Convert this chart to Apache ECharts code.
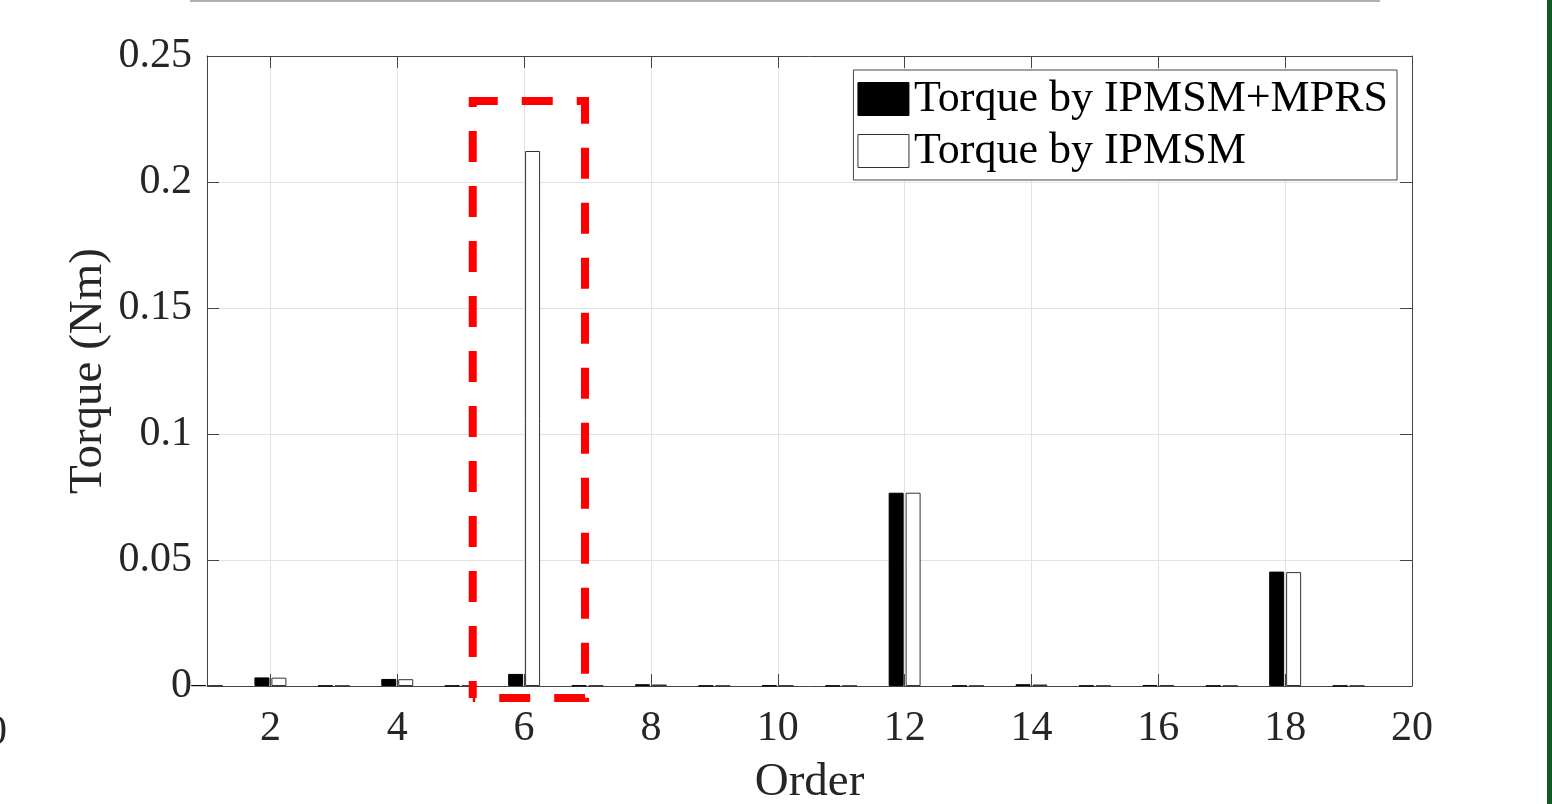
<!DOCTYPE html>
<html>
<head>
<meta charset="utf-8">
<title>Torque harmonics</title>
<script src="https://cdn.jsdelivr.net/npm/echarts@6/dist/echarts.min.js"></script>
<style>
  html, body { margin: 0; padding: 0; background: #fff; }
  #chart { width: 1552px; height: 804px; }
</style>
</head>
<body>
<div id="chart"></div>
<script>
// harmonic orders
const orders = [1, 2, 3, 4, 5, 6, 7, 8, 9, 10, 11, 12, 13, 14, 15, 16, 17, 18, 19]
// torque amplitude (Nm)
const torqueMprs = [0.0003, 0.0034, 0.0001, 0.0028, 0.0001, 0.0048, 0.0002, 0.0007, 0.0001, 0.0002,
  0.0001, 0.0767, 0.0001, 0.0007, 0.0001, 0.0004, 0.0001, 0.0454, 0.0001]
const torqueIpmsm = [0.0003, 0.0033, 0.0001, 0.0027, 0.0001, 0.2123, 0.0002, 0.0006, 0.0001, 0.0002,
  0.0001, 0.0767, 0.0001, 0.0006, 0.0001, 0.0004, 0.0001, 0.0452, 0.0001]
const seriesNames = ['Torque by IPMSM+MPRS', 'Torque by IPMSM']
const xTicks = [2, 4, 6, 8, 10, 12, 14, 16, 18, 20]
// highlight box around the 6th order (data coords), starts bottom-left
const boxX = [5.19, 5.19, 6.96, 6.96, 5.19]
const boxY = [-0.0048, 0.2321, 0.2321, -0.0048, -0.0048]

const FONT = 'Liberation Serif'
const AXIS = '#444'
const TXT = '#262626'

const chart = echarts.init(document.getElementById('chart'))

const xBase = {
  type: 'value',
  min: 1,
  max: 20,
  axisLine: { show: true, onZero: false, lineStyle: { color: AXIS, width: 1 } },
  axisTick: { show: true, inside: true, length: 12, customValues: xTicks, lineStyle: { color: AXIS } },
  splitLine: { show: false }
}
const yBase = {
  type: 'value',
  min: 0,
  max: 0.25,
  interval: 0.05,
  axisLine: { show: true, lineStyle: { color: AXIS, width: 1 } },
  axisTick: { show: true, inside: true, length: 12, lineStyle: { color: AXIS } },
  splitLine: { show: false }
}

chart.setOption({
  animation: false,
  backgroundColor: '#fff',
  textStyle: { fontFamily: FONT },
  grid: { left: 207, right: 140, top: 56, bottom: 118, outerBoundsMode: 'none', containLabel: false },
  legend: {
    orient: 'vertical',
    right: 155,
    top: 70,
    padding: [7, 9, 7, 4],
    itemGap: 8,
    itemWidth: 51,
    itemHeight: 33,
    backgroundColor: '#fff',
    borderColor: AXIS,
    borderWidth: 1,
    borderRadius: 0,
    textStyle: { fontFamily: FONT, fontSize: 44, color: '#000' },
    data: [
      { name: seriesNames[0], icon: 'rect', itemStyle: { color: '#000', borderColor: '#000', borderWidth: 1 } },
      { name: seriesNames[1], icon: 'rect', itemStyle: { color: '#fff', borderColor: '#333', borderWidth: 1 } }
    ]
  },
  xAxis: [
    Object.assign({}, xBase, {
      position: 'bottom',
      name: 'Order',
      nameLocation: 'middle',
      nameGap: 73,
      nameMoveOverlap: false,
      nameTextStyle: { fontFamily: FONT, fontSize: 47, color: TXT },
      axisLabel: { customValues: xTicks, margin: 22, fontFamily: FONT, fontSize: 42, color: TXT },
      splitLine: { show: true, lineStyle: { color: '#e3e3e3', width: 1 } }
    }),
    Object.assign({}, xBase, { position: 'top', axisLabel: { show: false } })
  ],
  yAxis: [
    Object.assign({}, yBase, {
      position: 'left',
      name: 'Torque (Nm)',
      nameLocation: 'middle',
      nameGap: 95,
      nameMoveOverlap: false,
      nameTextStyle: { fontFamily: FONT, fontSize: 47, color: TXT },
      axisLabel: {
        margin: 15, fontFamily: FONT, fontSize: 42, color: TXT,
        formatter: v => String(+v.toFixed(2))
      },
      splitLine: { show: true, lineStyle: { color: '#e3e3e3', width: 1 } }
    }),
    Object.assign({}, yBase, { position: 'right', axisLabel: { show: false } })
  ],
  series: [
    {
      name: seriesNames[0],
      type: 'bar',
      barWidth: 15,
      barGap: '13%',
      clip: true,
      itemStyle: { color: '#000', borderColor: '#000', borderWidth: 1 },
      data: orders.map((o, i) => [o, torqueMprs[i]])
    },
    {
      name: seriesNames[1],
      type: 'bar',
      barWidth: 15,
      barGap: '13%',
      clip: true,
      itemStyle: { color: '#fff', borderColor: '#333', borderWidth: 1 },
      data: orders.map((o, i) => [o, torqueIpmsm[i]])
    },
    {
      name: 'highlight',
      type: 'line',
      clip: false,
      silent: true,
      symbol: 'none',
      z: 5,
      lineStyle: { color: '#ff0000', width: 8, type: [31, 24], dashOffset: 14, join: 'miter', cap: 'butt' },
      data: boxX.map((x, i) => [x, boxY[i]])
    }
  ],
  graphic: [
    { type: 'rect', shape: { x: 190, y: 0, width: 1190, height: 2 }, style: { fill: '#b0b0b0' }, silent: true },
    { type: 'rect', shape: { x: 1547, y: 0, width: 5, height: 804 }, style: { fill: '#0e5a22' }, silent: true },
    { type: 'text', left: -14, top: 712, style: { text: '0', font: '42px "Liberation Serif"', fill: TXT }, silent: true }
  ]
})
</script>
</body>
</html>
